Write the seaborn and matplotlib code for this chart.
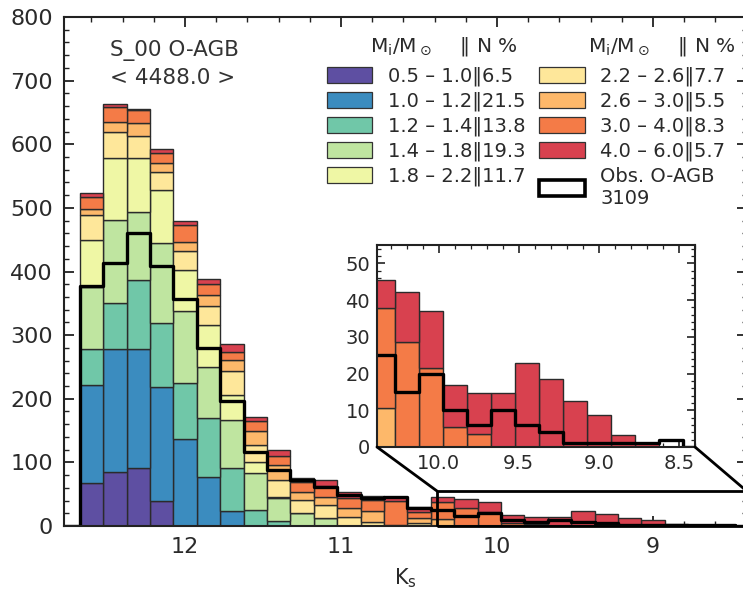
import numpy as np
import pandas as pd
import matplotlib
matplotlib.use("Agg")
import matplotlib.pyplot as plt
import seaborn as sns
from matplotlib.patches import Patch, Rectangle, ConnectionPatch
from matplotlib.ticker import MultipleLocator

# Ks bin edges (0.15 mag bins), first and last bins are empty padding
ks_edges = [12.825, 12.675, 12.525, 12.375, 12.225, 12.075, 11.925, 11.775,
            11.625, 11.475, 11.325, 11.175, 11.025, 10.875, 10.725, 10.575,
            10.425, 10.275, 10.125, 9.975, 9.825, 9.675, 9.525, 9.375,
            9.225, 9.075, 8.925, 8.775, 8.625, 8.475, 8.325]

# model counts per bin for each initial-mass range (bright bins at the end)
m05_10 = [0, 68, 85, 91, 40, 0, 0, 0, 0, 0, 0, 0, 0, 0, 0,
          0, 0, 0, 0, 0, 0, 0, 0, 0, 0, 0, 0, 0, 0, 0]
m10_12 = [0, 153, 193, 187, 179, 137, 77.5, 23.6, 0, 0, 0, 0, 0, 0, 0,
          0, 0, 0, 0, 0, 0, 0, 0, 0, 0, 0, 0, 0, 0, 0]
m12_14 = [0, 57, 72, 109, 100.6, 88, 91.5, 67, 25, 8, 0, 0, 0, 0, 0,
          0, 0, 0, 0, 0, 0, 0, 0, 0, 0, 0, 0, 0, 0, 0]
m14_18 = [0, 97, 131, 107, 124.7, 113, 81, 76, 58, 35.5, 21, 12, 0, 0, 0,
          0, 0, 0, 0, 0, 0, 0, 0, 0, 0, 0, 0, 0, 0, 0]
m18_22 = [0, 75, 97, 84, 83.8, 64, 66, 39.4, 17, 2, 0, 0, 0, 0, 0,
          0, 0, 0, 0, 0, 0, 0, 0, 0, 0, 0, 0, 0, 0, 0]
m22_26 = [0, 39, 42, 35, 27.8, 30, 30, 38, 28, 27, 20, 21, 14.7, 6, 0,
          4, 0, 0, 0, 0, 0, 0, 0, 0, 0, 0, 0, 0, 0, 0]
m26_30 = [0, 9, 14.5, 20, 14, 14, 17, 17, 21, 24, 13, 13, 13.3, 18, 2,
          8, 10.6, 0, 0, 0, 0, 0, 0, 0, 0, 0, 0, 0, 0, 0]
m30_40 = [0, 19, 24.5, 21, 15.7, 27, 17, 13, 16, 14, 15.6, 17, 16.5, 17, 37,
          10, 27.2, 28.5, 21.5, 5.4, 3.5, 0, 0, 0, 0, 0, 0, 0, 0, 0]
m40_60 = [0, 6, 5, 2, 6.3, 6, 8, 11.5, 7, 9, 5.4, 9, 9.5, 6, 6,
          8, 7.6, 13.7, 15.5, 11.6, 11.1, 14.6, 23, 18.5, 12.5, 8.8, 3.3, 1, 0, 0]

# observed O-rich AGB stars
obs_agb = [0, 377, 413, 460, 409, 356, 280, 197, 116, 88, 73, 61, 48, 44, 45,
           28, 25, 15, 20, 10, 6, 10, 6, 4, 1, 1, 1, 1, 2, 0]

mass_labels = ['0.5 – 1.0', '1.0 – 1.2', '1.2 – 1.4', '1.4 – 1.8', '1.8 – 2.2',
               '2.2 – 2.6', '2.6 – 3.0', '3.0 – 4.0', '4.0 – 6.0']
mass_pct = ['6.5', '21.5', '13.8', '19.3', '11.7', '7.7', '5.5', '8.3', '5.7']
mass_colors = ['#5e4fa2', '#3b8cbf', '#70c7a8', '#bfe5a0', '#eff7a5',
               '#fee79a', '#fdb86a', '#f47b47', '#d8414f']
n_model = 4488.0
n_obs = 3109

series = [m05_10, m10_12, m12_14, m14_18, m18_22, m22_26, m26_30, m30_40, m40_60]
edges = sorted(ks_edges)
centers = [(ks_edges[i] + ks_edges[i + 1]) / 2 for i in range(len(ks_edges) - 1)]

rows = []
for lab, vals in zip(mass_labels, series):
    for c, v in zip(centers, vals):
        rows.append({'ks': c, 'mass': lab, 'n': v})
df = pd.DataFrame(rows)
obs_df = pd.DataFrame({'ks': centers, 'n': obs_agb})
pal = dict(zip(mass_labels, mass_colors))

sns.set_style("ticks")
plt.rcParams['font.family'] = ['DejaVu Sans']
plt.rcParams['mathtext.fontset'] = 'dejavusans'
txt_c = '#2a2a2a'

fig = plt.figure(figsize=(7.43, 5.94), dpi=100)
ax = fig.add_axes([64 / 743, 1 - 526 / 594, (746.6 - 64) / 743, 509 / 594])
axins = fig.add_axes([377 / 743, 1 - 447 / 594, 318 / 743, 202 / 594])


def draw(a):
    sns.histplot(data=df, x='ks', weights='n', hue='mass', hue_order=mass_labels[::-1],
                 bins=edges, multiple='stack', palette=pal, alpha=1,
                 edgecolor='#2b2b2b', linewidth=1.0, legend=False, ax=a)
    sns.histplot(data=obs_df, x='ks', weights='n', bins=edges, element='step',
                 fill=False, color='black', linewidth=2.4, ax=a)
    a.set_xlabel('')
    a.set_ylabel('')
    for s in a.spines.values():
        s.set_linewidth(1.5)
        s.set_color('#222222')
    a.tick_params(which='both', direction='in', top=True, right=True,
                  color='#222222', labelcolor=txt_c)


draw(ax)
ax.set_xlim(12.776, 8.4)
ax.set_ylim(0, 800)
ax.xaxis.set_major_locator(MultipleLocator(1))
ax.xaxis.set_minor_locator(MultipleLocator(0.2))
ax.yaxis.set_major_locator(MultipleLocator(100))
ax.yaxis.set_minor_locator(MultipleLocator(20))
ax.tick_params(which='major', length=7, width=1.3, labelsize=16, pad=8)
ax.tick_params(which='minor', length=3.5, width=1.0)
ax.set_xlabel('K$_\\mathrm{s}$', fontsize=15, labelpad=7, color=txt_c)

draw(axins)
axins.set_xlim(10.385, 8.4)
axins.set_ylim(0, 55)
axins.xaxis.set_major_locator(MultipleLocator(0.5))
axins.xaxis.set_minor_locator(MultipleLocator(0.1))
axins.yaxis.set_major_locator(MultipleLocator(10))
axins.yaxis.set_minor_locator(MultipleLocator(2))
axins.tick_params(which='major', length=6, width=1.2, labelsize=14, pad=5)
axins.tick_params(which='minor', length=3, width=0.9)

# zoom box and connectors
ax.add_patch(Rectangle((10.385, 0), 8.4 - 10.385, 55, fill=False, ec='black',
                       lw=2.0, clip_on=False, zorder=5))
for xa, xb in [(10.385, 0), (8.4, 1)]:
    con = ConnectionPatch(xyA=(xa, 55), coordsA=ax.transData, xyB=(xb, 0),
                          coordsB=axins.transAxes, color='black', lw=2.0)
    fig.add_artist(con)

# run name and model total
ax.text(0.067, 0.934, 'S_00 O-AGB', transform=ax.transAxes, fontsize=15.5,
        ha='left', va='center', color='#333333')
ax.text(0.067, 0.881, '< %.1f >' % n_model, transform=ax.transAxes,
        fontsize=15.5, ha='left', va='center', color='#333333')

# legend
handles = [Patch(facecolor=c, edgecolor='#333333', lw=0.9) for c in mass_colors]
handles.append(Patch(facecolor='white', edgecolor='black', lw=2.6))
labels = ['%s‖%s' % (m, p) for m, p in zip(mass_labels, mass_pct)]
labels.append('Obs. O-AGB\n%d' % n_obs)
ax.legend(handles, labels, ncol=2, labelcolor=txt_c,
          frameon=False, loc='upper left', bbox_to_anchor=(0.385, 0.902),
          fontsize=14, handlelength=2.35, handleheight=0.85, handletextpad=0.8,
          columnspacing=0.7, labelspacing=0.28, borderpad=0, borderaxespad=0)
hdr = 'M$_\\mathrm{i}$/M$_\\odot$    ‖ N %'
fig.text(370 / 743, 1 - 46 / 594, hdr, fontsize=14.5, ha='left', va='center', color=txt_c)
fig.text(588 / 743, 1 - 46 / 594, hdr, fontsize=14.5, ha='left', va='center', color=txt_c)

fig.savefig('out.png', dpi=100)
